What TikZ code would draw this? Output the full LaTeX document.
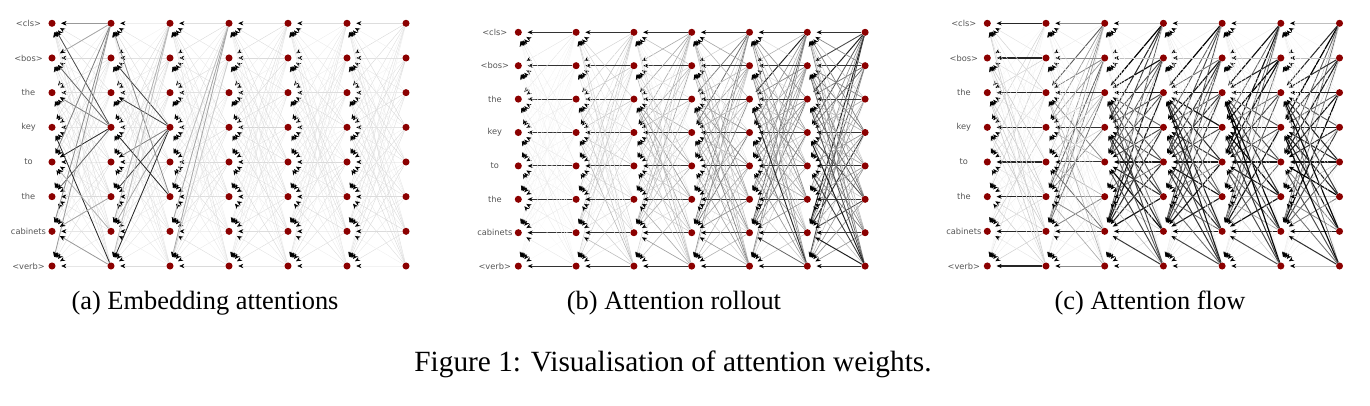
\documentclass[tikz,border=0pt]{standalone}
\usepackage{fontspec}
\setmainfont{Liberation Serif}
\newfontfamily\tokenfont{DejaVu Sans}
\usetikzlibrary{arrows.meta}
\definecolor{tokenred}{RGB}{139,0,0}
\definecolor{wordgray}{RGB}{85,85,85}

\begin{document}
\begin{tikzpicture}
        [x=0.75pt, y=-0.75pt,
        token/.style={circle, fill=tokenred, inner sep=0pt, minimum size=5.3pt},
        word/.style={font=\tokenfont\fontsize{6.2}{7}\selectfont, text=wordgray},
        attn/.style={-{Stealth[length=3.8pt, width=3.2pt, color=black]}, shorten >=4.1pt},
        subcap/.style={anchor=base, font=\fontsize{19.8}{24}\selectfont},
        figcap/.style={anchor=base, font=\fontsize{22}{26}\selectfont}]

        \useasboundingbox (0,0) rectangle (1370,406);
        \pgfmathsetseed{4}

        % tokens and words of the three panels
        \foreach \p/\xo/\dx/\yo/\dy in {a/52/59/23.3/34.67, b/518.3/57.8/32.3/33.4, c/987.3/58.7/23.3/34.67} {
          \foreach \w [count=\i from 0] in {<cls>, <bos>, the, key, to, the, cabinets, <verb>} {
            \node[word] (\p-w-\i) at (\xo-23.5, \yo+\i*\dy) {\w};
            \foreach \j in {0,...,6}
              \node[token] (\p-\j-\i) at (\xo+\j*\dx, \yo+\i*\dy) {};
          }
        }

        % (a) raw attentions, faint everywhere
        \foreach \t [evaluate=\t as \s using int(\t+1)] in {0,...,5}
          \foreach \k in {0,...,7}
            \foreach \i in {0,...,7} {
              \pgfmathsetmacro\wt{5+11*rnd}
              \draw[attn, draw=black!\wt, line width=0.3pt] (a-\s-\k) -- (a-\t-\i);
            }
        % (a) the strong ones in the first layers
        \foreach \s/\k/\t/\i/\wt in {1/0/0/0/40, 1/3/0/0/70, 1/3/0/1/60, 1/3/0/2/50, 1/3/0/4/85,
            1/3/0/5/60, 1/0/0/1/35, 1/0/0/4/50, 1/0/0/6/45, 1/0/0/7/40, 1/7/0/3/85, 1/7/0/6/40,
            1/5/0/6/35, 1/6/0/4/30, 2/3/1/1/75, 2/3/1/2/75, 2/3/1/4/50, 2/3/1/5/75, 2/3/1/7/85,
            2/3/1/6/35, 2/5/1/3/85, 2/5/1/0/45, 2/0/1/6/30, 2/0/1/7/25, 3/0/2/6/35, 3/0/2/7/35,
            3/0/2/5/25, 3/1/2/7/20}
          \draw[attn, draw=black!\wt, line width=0.6pt] (a-\s-\k) -- (a-\t-\i);

        % (b) rollout
        \foreach \t [evaluate=\t as \s using int(\t+1)] in {0,...,5}
          \foreach \k in {0,...,7}
            \foreach \i in {0,...,7} {
              \pgfmathsetmacro\wt{\k==\i ? 80 : min(88, rnd*(10+9*\t) + ((\i==2 || \i==3 || \i==6) ? 6*\t : 0) + ((\k==0 || \k==7) ? 4*\t : 0))}
              \pgfmathsetmacro\lw{0.3+0.005*\wt}
              \draw[attn, draw=black!\wt, line width=\lw pt] (b-\s-\k) -- (b-\t-\i);
            }

        % (c) flow
        \foreach \t [evaluate=\t as \s using int(\t+1)] in {0,...,5}
          \foreach \k in {0,...,7}
            \foreach \i in {0,...,7} {
              \pgfmathsetmacro\inner{(\i>1 && \i<7) ? 1 : 0}
              \pgfmathsetmacro\wt{\t==0 ? (\k==\i ? 85 : rnd*22)
                : (\t==1 ? (\k==\i ? (\inner==1 && \i!=5 ? 80 : 45) : (\inner==1 ? rnd*65 : rnd*15))
                : (\k==\i ? (\inner==1 && \i!=5 ? 90 : 25) : (\inner==1 ? (\i==5 ? rnd*60 : 50+50*rnd) : rnd*10)))}
              \pgfmathsetmacro\lw{0.3+0.006*\wt}
              \draw[attn, draw=black!\wt, line width=\lw pt] (c-\s-\k) -- (c-\t-\i);
            }

        % captions
        \node[subcap] (cap-a) at (205,309) {(a) Embedding attentions};
        \node[subcap] (cap-b) at (674,309) {(b) Attention rollout};
        \node[subcap] (cap-c) at (1150,309) {(c) Attention flow};
        \node[figcap] (cap-fig) at (673,371) {Figure 1: Visualisation of attention weights.};

\end{tikzpicture}
\end{document}
